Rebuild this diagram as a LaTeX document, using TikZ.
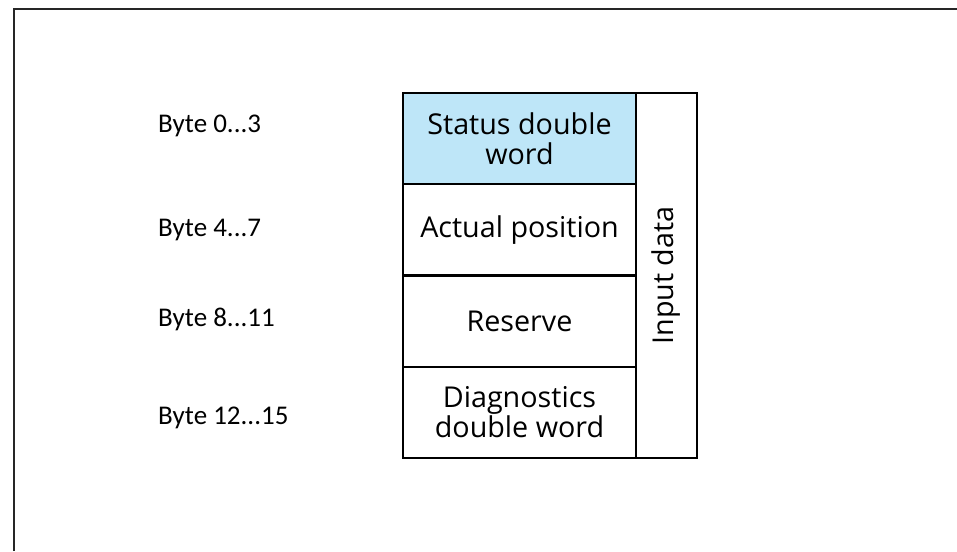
\documentclass[tikz,border=0pt]{standalone}
\usepackage{fontspec}
\setmainfont{Open Sans}
\newfontfamily\bytefont{Carlito}
\usetikzlibrary{positioning}
\definecolor{statusblue}{RGB}{190,230,248}

\begin{document}
\begin{tikzpicture}[x=1pt,y=-1pt,
    cell/.style={draw, line width=2.4pt, minimum width=233pt, minimum height=91.25pt,
      inner sep=0pt, outer sep=0pt, align=center, font=\fontsize{28.7}{30}\selectfont},
    bytelabel/.style={anchor=base west, inner sep=0pt, font=\bytefont\fontsize{27}{30}\selectfont}]
  \useasboundingbox (0,0) rectangle (957,551);
  % frame
  \draw[line width=2pt, black!85] (13.5,551) -- (13.5,9.5) -- (957,9.5);
  % data words
  \node[cell, fill=statusblue, anchor=north west] (status) at (403,93) {Status double\\word};
  \node[cell, below=0pt of status] (actual) {Actual position};
  \node[cell, below=0pt of actual] (reserve) {Reserve};
  \node[cell, below=0pt of reserve] (diag) {Diagnostics\\double word};
  \node[cell, minimum width=61pt, minimum height=365pt, anchor=north west] (input) at (status.north east) {};
  \node[rotate=90, inner sep=0pt, font=\fontsize{28.7}{30}\selectfont] (inputlabel) at (input.center) {Input data};
  % byte offsets
  \node[bytelabel] (byte0) at (158,132) {Byte 0...3};
  \node[bytelabel] (byte4) at (158,236.5) {Byte 4...7};
  \node[bytelabel] (byte8) at (158,326.5) {Byte 8...11};
  \node[bytelabel] (byte12) at (158,424.5) {Byte 12...15};
\end{tikzpicture}
\end{document}
